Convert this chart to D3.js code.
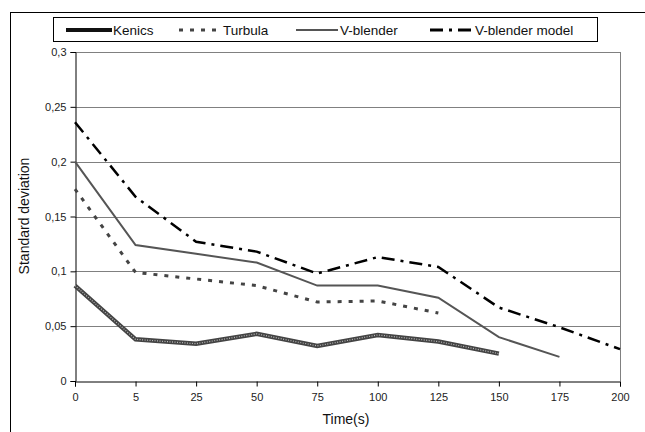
<!DOCTYPE html>
<html><head><meta charset="utf-8">
<script src="https://cdn.jsdelivr.net/npm/d3@7"></script>
<style>body{margin:0;background:#fff}svg{display:block;font-family:"Liberation Sans",Arial,sans-serif}</style>
</head><body><svg id="c" width="645" height="432"></svg>
<script>
const categories = ["0","5","25","50","75","100","125","150","175","200"];
const kenics = [0.087,0.038,0.034,0.043,0.032,0.042,0.036,0.025];
const turbula = [0.175,0.099,0.093,0.087,0.072,0.073,0.062];
const vblender = [0.200,0.124,0.116,0.108,0.087,0.087,0.076,0.040,0.022];
const vmodel = [0.236,0.168,0.127,0.118,0.098,0.113,0.104,0.067,0.049,0.029];
const yTicks = [0,0.05,0.1,0.15,0.2,0.25,0.3];
const seriesNames = ["Kenics","Turbula","V-blender","V-blender model"];

const svg = d3.select("#c");
const x = d3.scalePoint().domain(categories).range([75,620]).padding(0);
const y = d3.scaleLinear().domain([0,0.3]).range([381,52]);
const fmt = d => String(+d.toFixed(2)).replace(".", ",");

// outer frame
svg.append("rect").attr("x",10.5).attr("y",12.5).attr("width",700).attr("height",500)
  .attr("fill","none").attr("stroke","#000").attr("stroke-width",1);

// gridlines
svg.append("g").selectAll("line").data(yTicks.slice(1)).join("line")
  .attr("x1",75).attr("x2",620).attr("y1",d=>Math.round(y(d))+0.5).attr("y2",d=>Math.round(y(d))+0.5)
  .attr("stroke","#808080").attr("stroke-width",1);
svg.append("line").attr("x1",620.5).attr("x2",620.5).attr("y1",y(0.3)).attr("y2",y(0))
  .attr("stroke","#808080");

// axes
const yAxis = svg.append("g").attr("transform","translate(75.5,0)")
  .call(d3.axisLeft(y).tickValues(yTicks).tickFormat(fmt).tickSize(5).tickPadding(4));
const xAxis = svg.append("g").attr("transform",`translate(0,${Math.round(y(0))+0.5})`)
  .call(d3.axisBottom(x).tickSize(5).tickPadding(7));
[yAxis,xAxis].forEach(a=>{
  a.select(".domain").attr("stroke","#000");
  a.selectAll(".tick line").attr("stroke","#000");
  a.selectAll("text").attr("font-size",11).attr("fill","#222").attr("font-family","Liberation Sans, Arial, sans-serif");
});
yAxis.selectAll(".tick text").attr("dy","0.32em");

// axis titles
svg.append("text").attr("x",346).attr("y",424).attr("text-anchor","middle")
  .attr("font-size",14).attr("fill","#111").text("Time(s)");
svg.append("text").attr("transform","translate(29,216) rotate(-90)").attr("text-anchor","middle")
  .attr("font-size",14).attr("fill","#111").text("Standard deviation");

const line = d3.line().x((d,i)=>x(categories[i])).y(d=>y(d));

// V-blender model
svg.append("path").attr("d",line(vmodel)).attr("fill","none").attr("stroke","#000")
  .attr("stroke-width",2.5).attr("stroke-dasharray","13,6,3,6");
// V-blender
svg.append("path").attr("d",line(vblender)).attr("fill","none").attr("stroke","#555")
  .attr("stroke-width",2);
// Turbula
svg.append("path").attr("d",line(turbula)).attr("fill","none").attr("stroke","#444")
  .attr("stroke-width",3).attr("stroke-dasharray","4,7");
// Kenics (textured thick line)
svg.append("path").attr("d",line(kenics)).attr("fill","none").attr("stroke","#444")
  .attr("stroke-width",4.5);
svg.append("path").attr("d",line(kenics)).attr("fill","none").attr("stroke","#bbb")
  .attr("stroke-width",1.2).attr("stroke-dasharray","1,1.5");

// legend
const lg = svg.append("g");
lg.append("rect").attr("x",53.5).attr("y",17.5).attr("width",544).attr("height",24)
  .attr("fill","#fff").attr("stroke","#000");
const ly = 30;
const legendItems = [
  {name:seriesNames[0], x1:66, x2:112, stroke:"#111", w:4, dash:null, tx:113},
  {name:seriesNames[1], x1:179, x2:220, stroke:"#444", w:3, dash:"4,7", tx:223},
  {name:seriesNames[2], x1:296, x2:338, stroke:"#555", w:2, dash:null, tx:340},
  {name:seriesNames[3], x1:430, x2:474, stroke:"#000", w:3, dash:"13,6,3,6", tx:475}
];
legendItems.forEach(it=>{
  const l = lg.append("line").attr("x1",it.x1).attr("x2",it.x2).attr("y1",ly).attr("y2",ly)
    .attr("stroke",it.stroke).attr("stroke-width",it.w);
  if(it.dash) l.attr("stroke-dasharray",it.dash);
  lg.append("text").attr("x",it.tx).attr("y",ly+5).attr("font-size",13.5).attr("fill","#111").text(it.name);
});
</script></body></html>
